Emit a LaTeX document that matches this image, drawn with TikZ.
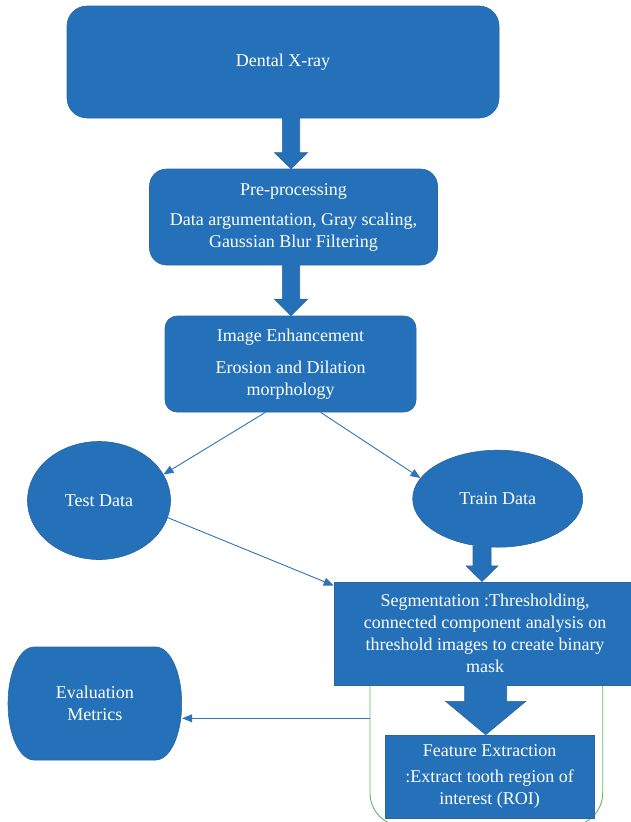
\documentclass[tikz,border=0pt]{standalone}
\usepackage{fontspec}
\setmainfont{Liberation Serif}
\usetikzlibrary{shapes.geometric,
	arrows.meta,
	calc,
	positioning}
\definecolor{boxblue}{HTML}{2471BA}
\definecolor{rimblue}{HTML}{2C64A0}
\definecolor{linkblue}{HTML}{2E74B8}
\definecolor{grpgreen}{HTML}{5DB75D}
\tikzstyle{stage}=[fill=boxblue, draw=rimblue, line width=0.6pt, text=white,
		align=center, inner sep=0, font=\fontsize{18}{22}\selectfont]
\tikzstyle{rstage}=[stage, rounded corners=15pt]
\tikzstyle{dataset}=[stage, ellipse]
\tikzstyle{blkarrow}=[fill=boxblue, draw=rimblue, line width=0.6pt]
\tikzstyle{link}=[draw=linkblue, line width=0.9pt, -{Triangle[length=10pt,width=8pt]}]
\tikzstyle{grp}=[draw=grpgreen, line width=0.9pt, rounded corners=33pt]
% fat arrow: [x shift]{from}{to}{shaft half width}{head half width}{head length}
\newcommand\blockarrow[6][0]{%
	\path[blkarrow] let \p1=(#2.south), \p2=(#3.north) in
		(\x2+#1-#4,\y1+2) -- (\x2+#1-#4,\y2+#6) -- (\x2+#1-#5,\y2+#6)
		-- (\x2+#1,\y2) -- (\x2+#1+#5,\y2+#6) -- (\x2+#1+#4,\y2+#6)
		-- (\x2+#1+#4,\y1+2);}

\begin{document}
\begin{tikzpicture}[x=1pt, y=-1pt]
        \useasboundingbox (0,0) rectangle (631,822);
        % green frame behind segmentation and features
        \draw[grp] (370,640) rectangle (602.7,826);
        \node[rstage, rounded corners=20pt, minimum width=432pt, minimum height=112pt] (xray) at (283,62) {Dental X-ray};
        \node[rstage, rounded corners=17pt, minimum width=288pt, minimum height=96pt] (pre) at (293.5,217)
            {Pre-processing\\[8pt] Data argumentation, Gray scaling,\\ Gaussian Blur Filtering};
        \node[rstage, rounded corners=12pt, minimum width=251pt, minimum height=96pt] (enh) at (290.5,364)
            {Image Enhancement\\[10pt] Erosion and Dilation\\ morphology};
        \node[dataset, minimum width=143pt, minimum height=118pt] (test) at (99,500.5) {Test Data};
        \node[dataset, minimum width=170pt, minimum height=97pt] (train) at (497.7,498.7) {Train Data};
        \node[stage, minimum width=302pt, minimum height=103pt] (seg) at (485,633.3)
            {Segmentation :Thresholding,\\ connected component analysis on\\ threshold images to create binary\\ mask};
        \node[stage, minimum width=209pt, minimum height=83pt] (feat) at (489.7,776.5)
            {Feature Extraction\\[4pt] :Extract tooth region of\\ interest (ROI)};
        % metrics box with bulging sides
        \path[blkarrow] (34,647) -- (155.7,647)
            arc[x radius=26pt, y radius=56.5pt, start angle=90, end angle=-90]
            -- (34,760) arc[x radius=26pt, y radius=56.5pt, start angle=270, end angle=90] -- cycle;
        \node[stage, draw=none, fill=none, minimum width=174pt, minimum height=113pt] (eval) at (94.9,703.5)
            {Evaluation\\ Metrics};
        \coordinate (tap) at (370,718.3);

        \blockarrow[-2.5]{xray}{pre}{8.7}{16.5}{16}
        \blockarrow[0.5]{pre}{enh}{8.7}{16.5}{16.5}
        \blockarrow[-3]{train}{seg}{9}{16}{15.7}
        \blockarrow[-4]{seg}{feat}{21}{40}{33.3}

        \draw[link] ([xshift=-25pt]enh.south) -- (test.22);
        \draw[link] ([xshift=30pt]enh.south) -- (train.165);
        \draw[link] (test.-14) -- ([yshift=-4pt]seg.north west);
        \draw[link] (tap) -- (tap -| eval.east);
    \end{tikzpicture}
\end{document}
